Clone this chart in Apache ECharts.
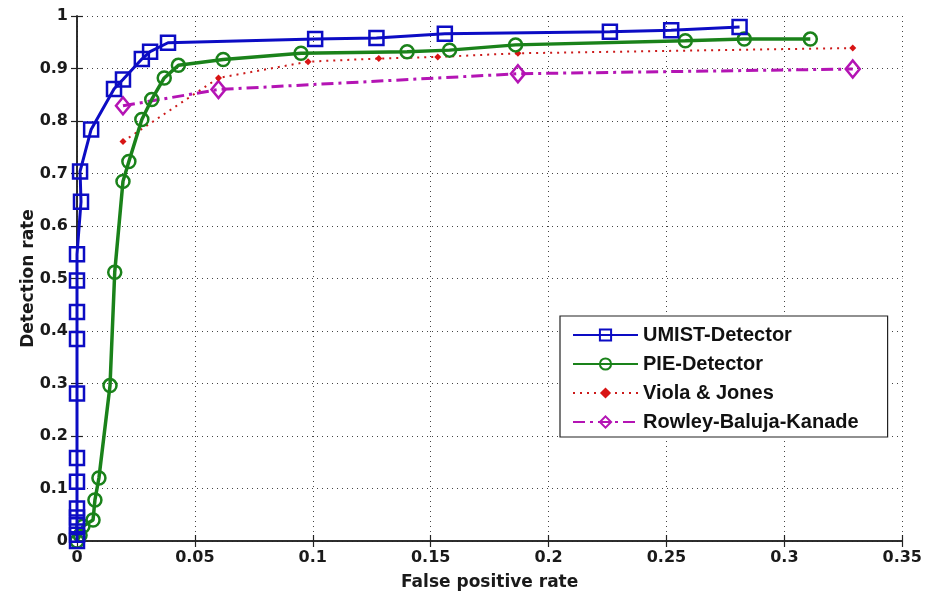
<!DOCTYPE html>
<html>
<head>
<meta charset="utf-8">
<script src="https://cdn.jsdelivr.net/npm/echarts@6/dist/echarts.min.js"></script>
<style>
  html, body { margin: 0; padding: 0; background: #fff; }
  #chart { width: 925px; height: 596px; }
</style>
</head>
<body>
<div id="chart"></div>
<script>
  // ROC curves, values
  var umistX = [0, 0, 0, 0, 0, 0, 0, 0, 0, 0, 0, 0, 0.0017, 0.0013, 0.006, 0.0157, 0.0195, 0.0275, 0.031, 0.0386, 0.101, 0.127, 0.156, 0.226, 0.252, 0.281];
  var umistY = [0, 0.012, 0.03, 0.045, 0.062, 0.113, 0.158, 0.281, 0.385, 0.436, 0.496, 0.546, 0.646, 0.704, 0.784, 0.861, 0.879, 0.918, 0.932, 0.949, 0.956, 0.958, 0.966, 0.970, 0.973, 0.979];

  var pieX = [0, 0.0013, 0.0025, 0.0068, 0.0076, 0.0093, 0.014, 0.016, 0.0195, 0.022, 0.0275, 0.0317, 0.037, 0.043, 0.062, 0.095, 0.140, 0.158, 0.186, 0.258, 0.283, 0.311];
  var pieY = [0, 0.011, 0.028, 0.04, 0.078, 0.12, 0.296, 0.512, 0.685, 0.723, 0.803, 0.841, 0.882, 0.906, 0.917, 0.929, 0.932, 0.935, 0.945, 0.953, 0.956, 0.956];

  var violaX = [0.0195, 0.060, 0.098, 0.128, 0.153, 0.187, 0.329];
  var violaY = [0.761, 0.882, 0.913, 0.919, 0.922, 0.929, 0.939];

  var rowleyX = [0.0195, 0.060, 0.187, 0.329];
  var rowleyY = [0.829, 0.860, 0.890, 0.899];

  var seriesNames = ['UMIST-Detector', 'PIE-Detector', 'Viola & Jones', 'Rowley-Baluja-Kanade'];

  function pairs(xs, ys) {
    var out = [];
    for (var i = 0; i < xs.length; i++) out.push([xs[i], ys[i]]);
    return out;
  }

  var tickFont = { fontFamily: 'DejaVu Sans', fontWeight: 'bold', fontSize: 16, color: '#1a1a1a' };
  var gridLine = { show: true, lineStyle: { color: '#444', width: 1, type: [1, 4] } };
  var axisLine = { show: true, lineStyle: { color: '#222', width: 1.5 } };
  var ticksIn = { show: true, inside: true, length: 6, lineStyle: { color: '#222', width: 1.2 } };

  var chart = echarts.init(document.getElementById('chart'));
  var option = {
    animation: false,
    backgroundColor: '#fff',
    grid: { left: 77, right: 22, top: 16, bottom: 53 },
    legend: {
      data: seriesNames,
      orient: 'vertical',
      left: 560,
      top: 316,
      itemWidth: 65,
      itemHeight: 14,
      itemGap: 9,
      padding: [9, 29, 5, 12],
      backgroundColor: '#fff',
      borderColor: '#222',
      borderWidth: 1.2,
      borderRadius: 0,
      textStyle: { fontFamily: 'Liberation Sans', fontWeight: 'bold', fontSize: 20, lineHeight: 20, color: '#111' }
    },
    xAxis: [
      {
        type: 'value', position: 'bottom', min: 0, max: 0.35, interval: 0.05,
        name: 'False positive rate', nameLocation: 'middle', nameGap: 33, nameMoveOverlap: false,
        nameTextStyle: { fontFamily: 'DejaVu Sans', fontWeight: 'bold', fontSize: 17, color: '#1a1a1a' },
        axisLine: axisLine, axisTick: ticksIn,
        axisLabel: Object.assign({ margin: 9 }, tickFont),
        splitLine: gridLine
      },
      {
        type: 'value', position: 'top', min: 0, max: 0.35, interval: 0.05,
        axisLine: axisLine, axisTick: ticksIn, axisLabel: { show: false }, splitLine: { show: false }
      }
    ],
    yAxis: [
      {
        type: 'value', position: 'left', min: 0, max: 1, interval: 0.1,
        name: 'Detection rate', nameLocation: 'middle', nameGap: 40, nameMoveOverlap: false,
        nameTextStyle: { fontFamily: 'DejaVu Sans', fontWeight: 'bold', fontSize: 17, color: '#1a1a1a' },
        axisLine: axisLine, axisTick: ticksIn,
        axisLabel: Object.assign({ margin: 9 }, tickFont),
        splitLine: gridLine
      },
      {
        type: 'value', position: 'right', min: 0, max: 1, interval: 0.1,
        axisLine: axisLine, axisTick: ticksIn, axisLabel: { show: false }, splitLine: { show: false }
      }
    ],
    series: [
      {
        name: seriesNames[3], type: 'line', data: pairs(rowleyX, rowleyY), z: 2, clip: false,
        symbol: 'diamond', symbolSize: [14, 17],
        lineStyle: { color: '#b414b4', width: 3, type: [12, 5, 3, 5] },
        itemStyle: { color: 'rgba(255,255,255,0)', borderColor: '#b414b4', borderWidth: 2.5 }
      },
      {
        name: seriesNames[2], type: 'line', data: pairs(violaX, violaY), z: 3, clip: false,
        symbol: 'diamond', symbolSize: 7,
        lineStyle: { color: '#cc1a1a', width: 2, type: [2, 5] },
        itemStyle: { color: '#d81414', borderWidth: 0 }
      },
      {
        name: seriesNames[1], type: 'line', data: pairs(pieX, pieY), z: 4, clip: false,
        symbol: 'circle', symbolSize: 13,
        lineStyle: { color: '#1a821a', width: 3.5 },
        itemStyle: { color: 'rgba(255,255,255,0)', borderColor: '#1a821a', borderWidth: 2.5 }
      },
      {
        name: seriesNames[0], type: 'line', data: pairs(umistX, umistY), z: 5, clip: false,
        symbol: 'rect', symbolSize: 14,
        lineStyle: { color: '#0c0cc4', width: 3 },
        itemStyle: { color: 'rgba(255,255,255,0)', borderColor: '#0c0cc4', borderWidth: 2.5 }
      }
    ]
  };
  chart.setOption(option);
</script>
</body>
</html>
